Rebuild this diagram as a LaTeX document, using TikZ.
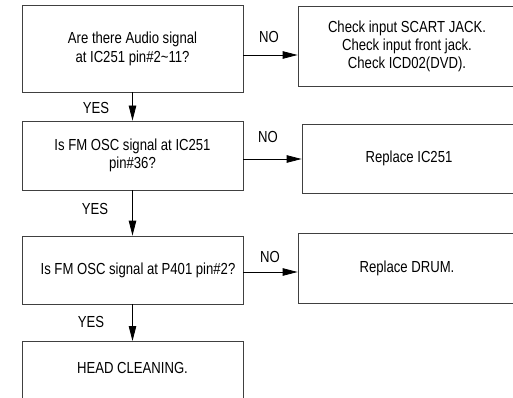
\documentclass[tikz,border=0pt]{standalone}
\usepackage{fontspec}
\setmainfont{Liberation Sans}[FakeStretch=0.82]
\usetikzlibrary{arrows.meta}
\begin{document}
\begin{tikzpicture}[x=1pt,y=-1pt,
 txt/.style={font=\fontsize{16}{18}\selectfont},
 box/.style={txt, draw=black!75, line width=0.8pt, inner sep=0pt, align=center},
 lbl/.style={txt, inner sep=0pt},
 arr/.style={draw=black, line width=0.8pt, -{Triangle[length=15pt,width=7.5pt]}}]
\useasboundingbox (0,0) rectangle (513,398);
\node[box, minimum width=221pt, minimum height=87pt] (b1) at (132.5,48.5) {Are there Audio signal\\[1pt]at IC251 pin\#2\textasciitilde 11?};
\node[box, minimum width=218pt, minimum height=80pt] (r1) at (407,46) {Check input SCART JACK.\\Check input front jack.\\Check ICD02(DVD).};
\node[box, minimum width=221pt, minimum height=69pt] (b2) at (132.5,155.5) {Is FM OSC signal at IC251\\pin\#36?};
\node[box, minimum width=214pt, minimum height=69pt] (r2) at (409,158.5) {Replace IC251};
\node[box, minimum width=221pt, minimum height=68pt] (b3) at (132.5,270) {\hspace{11pt}Is FM OSC signal at P401 pin\#2?};
\node[box, minimum width=218pt, minimum height=70pt] (r3) at (407,268) {Replace DRUM.};
\node[box, anchor=north, minimum width=221pt, minimum height=70pt,
  label={[txt, anchor=center, yshift=-27pt]north:HEAD CLEANING.}] (b4) at (132.5,341) {};
\draw[arr] (b1.south) -- (b2.north);
\draw[arr] (b2.south) -- (b3.north);
\draw[arr] (b3.south) -- (b4.north);
\draw[arr] ([yshift=-6.5pt]b1.east) -- ([yshift=-6.5pt]b1.east -| r1.west);
\draw[arr] ([yshift=-3.5pt]b2.east) -- ([yshift=-3.5pt]b2.east -| r2.west);
\draw[arr] ([yshift=-2pt]b3.east) -- ([yshift=-2pt]b3.east -| r3.west);
\node[lbl] (y1) at (96,108) {YES};
\node[lbl] (y2) at (95,209) {YES};
\node[lbl] (y3) at (91,322) {YES};
\node[lbl] (n1) at (269,37) {NO};
\node[lbl] (n2) at (268,137) {NO};
\node[lbl] (n3) at (270,257) {NO};
\end{tikzpicture}
\end{document}
